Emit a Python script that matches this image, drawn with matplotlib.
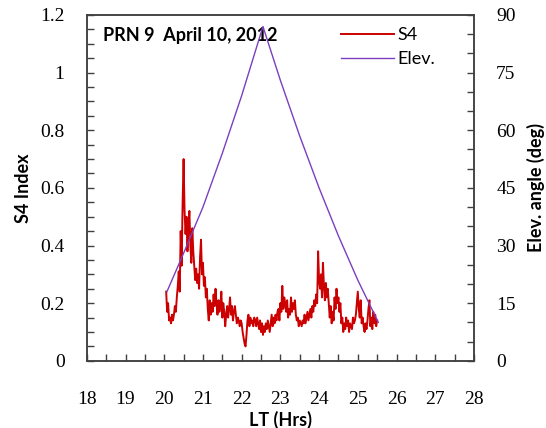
import numpy as np
import matplotlib
matplotlib.use("Agg")
from matplotlib import pyplot as plt
from matplotlib.ticker import MultipleLocator

# S4 index, sampled every 0.025 h from 20.05 LT
s4_start = 20.05
s4_step = 0.025
s4 = [
    0.24, 0.17, 0.20, 0.14, 0.15, 0.13, 0.16, 0.14, 0.16, 0.19, 0.17, 0.22,
    0.26, 0.31, 0.24, 0.45, 0.33, 0.55, 0.70, 0.52, 0.44, 0.50, 0.38, 0.47,
    0.52, 0.40, 0.34, 0.46, 0.38, 0.33, 0.28, 0.32, 0.27, 0.30, 0.25, 0.36,
    0.42, 0.30, 0.34, 0.26, 0.29, 0.22, 0.25, 0.18, 0.14, 0.21, 0.16, 0.20,
    0.17, 0.23, 0.19, 0.25, 0.20, 0.16, 0.21, 0.17, 0.19, 0.24, 0.15, 0.20,
    0.17, 0.12, 0.16, 0.19, 0.15, 0.18, 0.22, 0.16, 0.19, 0.14, 0.17, 0.19,
    0.16, 0.13, 0.15, 0.14, 0.12, 0.14, 0.13, 0.10, 0.08, 0.06, 0.05, 0.09,
    0.14, 0.16, 0.12, 0.15, 0.13, 0.14, 0.12, 0.15, 0.14, 0.12, 0.15, 0.13,
    0.11, 0.14, 0.10, 0.13, 0.09, 0.12, 0.10, 0.13, 0.11, 0.14, 0.12, 0.10,
    0.13, 0.16, 0.12, 0.15, 0.13, 0.16, 0.14, 0.17, 0.18, 0.14, 0.20, 0.17,
    0.26, 0.18, 0.22, 0.20, 0.17, 0.21, 0.15, 0.18, 0.16, 0.22, 0.17, 0.20,
    0.18, 0.21, 0.16, 0.14, 0.15, 0.12, 0.14, 0.13, 0.12, 0.14, 0.13, 0.16,
    0.13, 0.15, 0.17, 0.14, 0.16, 0.18, 0.15, 0.19, 0.17, 0.21, 0.19, 0.23,
    0.20, 0.38, 0.28, 0.25, 0.30, 0.22, 0.34, 0.26, 0.21, 0.27, 0.22, 0.25,
    0.20, 0.15, 0.19, 0.13, 0.17, 0.14, 0.22, 0.18, 0.25, 0.20, 0.22, 0.17,
    0.20, 0.13, 0.15, 0.10, 0.13, 0.11, 0.15, 0.12, 0.14, 0.10, 0.13, 0.12,
    0.11, 0.15, 0.13, 0.14, 0.16, 0.20, 0.24, 0.18, 0.15, 0.21, 0.13, 0.15,
    0.12, 0.10, 0.13, 0.11, 0.14, 0.18, 0.21, 0.12, 0.15, 0.11, 0.17, 0.13,
    0.16, 0.12, 0.14,
]
lt_s4 = s4_start + s4_step * np.arange(len(s4))

# satellite elevation angle (deg)
lt_elev = [20.07, 20.5, 21.0, 21.5, 22.0, 22.55, 23.0, 23.5,
           24.0, 24.5, 25.0, 25.53]
elev = [18, 28, 40, 54, 69, 87, 73, 58.5, 45, 32.5, 21, 10]

label_font = 'Lato'
tick_font = 'Liberation Serif'

fig = plt.figure(figsize=(5.46, 4.28), dpi=100)
ax = fig.add_axes([0.159, 0.157, 0.709, 0.808])
ax2 = ax.twinx()

l1, = ax.plot(lt_s4, s4, color='#CC0000', lw=1.4, label='S4')
l2, = ax2.plot(lt_elev, elev, color='#7B3FBF', lw=1.0, label='Elev.')

ax.set_xlim(18, 28)
ax.set_ylim(0, 1.2)
ax2.set_ylim(0, 90)

ax.xaxis.set_major_locator(MultipleLocator(1))
ax.xaxis.set_minor_locator(MultipleLocator(0.5))
ax.yaxis.set_major_locator(MultipleLocator(0.2))
ax.yaxis.set_minor_locator(MultipleLocator(0.05))
ax2.yaxis.set_major_locator(MultipleLocator(15))
ax2.yaxis.set_minor_locator(MultipleLocator(5))

ax.set_yticks([0, 0.2, 0.4, 0.6, 0.8, 1.0, 1.2])
ax.set_yticklabels(['0', '0.2', '0.4', '0.6', '0.8', '1', '1.2'])

spine_c = '#404040'
for a in (ax, ax2):
    for s in a.spines.values():
        s.set_color(spine_c)
        s.set_linewidth(1.1)

ax.tick_params(axis='x', which='both', direction='in', length=5, width=1,
               color=spine_c, pad=22, labelsize=14, top=False)
ax.tick_params(axis='y', which='both', direction='in', length=5, width=1,
               color=spine_c, pad=16, labelsize=14)
ax2.tick_params(axis='y', which='both', direction='in', length=5, width=1,
                color=spine_c, pad=16, labelsize=14)
for lab in ax.get_xticklabels() + ax.get_yticklabels() + ax2.get_yticklabels():
    lab.set_fontfamily(tick_font)

ax.set_xlabel('LT (Hrs)', fontfamily=label_font, fontweight='bold',
              fontsize=13, labelpad=2)
ax.set_ylabel('S4 Index', fontfamily=label_font, fontweight='bold',
              fontsize=13, labelpad=6)
ax2.set_ylabel('Elev. angle (deg)', fontfamily=label_font, fontweight='bold',
               fontsize=13, labelpad=8)

ax.text(0.042, 0.94, 'PRN 9  April 10, 2012', transform=ax.transAxes,
        fontfamily=label_font, fontweight='bold', fontsize=13,
        ha='left', va='center')

ax2.legend([l1, l2], ['S4', 'Elev.'], loc='upper left',
           bbox_to_anchor=(0.615, 1.012), frameon=False, handlelength=2.9,
           handletextpad=0.2, labelspacing=0.45,
           prop={'family': label_font, 'size': 13})

fig.savefig('out.png', dpi=100)
